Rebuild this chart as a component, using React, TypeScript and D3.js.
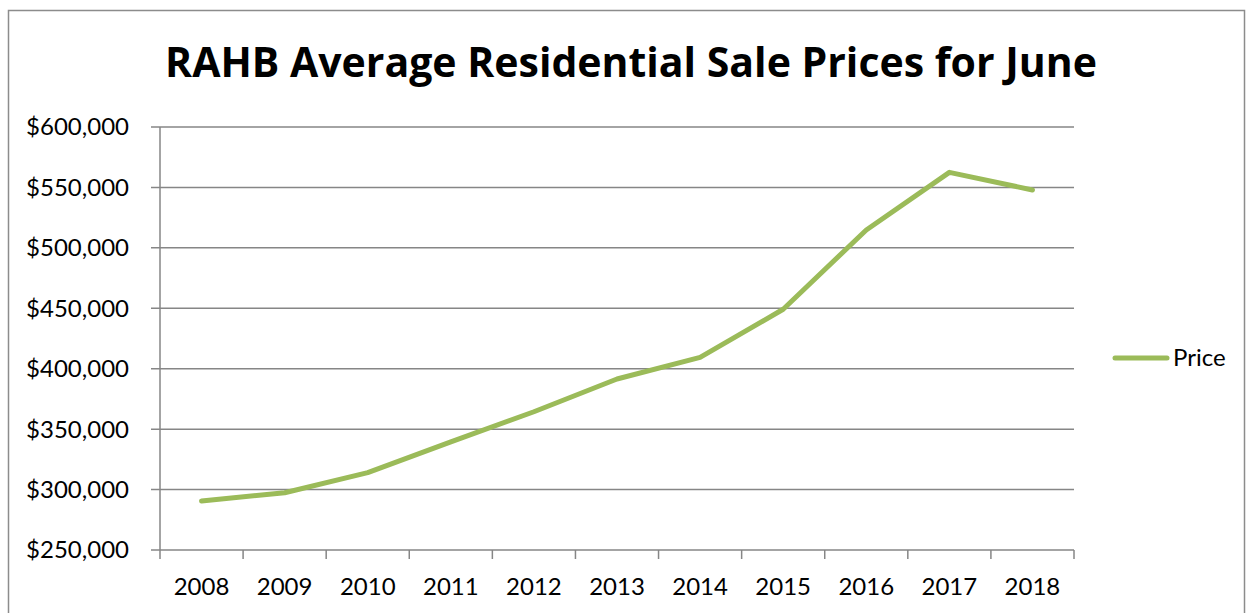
import React from "react";
import * as d3 from "d3";

const years = ["2008", "2009", "2010", "2011", "2012", "2013", "2014", "2015", "2016", "2017", "2018"];
const prices = [290500, 297400, 314000, 339500, 364400, 391500, 409400, 449200, 514800, 562500, 547900];
const yTicks = [250000, 300000, 350000, 400000, 450000, 500000, 550000, 600000];
const seriesName = "Price";
const title = "RAHB Average Residential Sale Prices for June";

const W = 1253;
const H = 613;
const plot = { left: 160, right: 1074, top: 127, bottom: 550 };
const green = "#9BBB59";
const grid = "#868686";
const font = "Lato, 'Open Sans', sans-serif";
const titleFont = "'Open Sans', Lato, sans-serif";

export default function App() {
  const x = d3.scaleBand<string>().domain(years).range([plot.left, plot.right]).padding(0);
  const y = d3.scaleLinear().domain([250000, 600000]).range([plot.bottom, plot.top]);
  const fmt = (v: number) => "$" + d3.format(",")(v);
  const line = d3
    .line<number>()
    .x((_, i) => (x(years[i]) as number) + x.bandwidth() / 2)
    .y((d) => y(d));
  const boundaries = years.map((yr) => x(yr) as number).concat([plot.right]);

  return (
    <svg width={W} height={H} style={{ position: "absolute", left: 0, top: 0 }}>
      <rect x={0} y={0} width={W} height={H} fill="#fff" />
      <rect x={8.5} y={10.5} width={1236} height={H + 20} fill="none" stroke="#8c8c8c" strokeWidth={1.5} />
      <text x={631} y={77} textAnchor="middle" fontFamily={titleFont} fontWeight={700} fontSize={41} fill="#000">
        {title}
      </text>
      {yTicks.map((t) => (
        <g key={t}>
          <line x1={plot.left - 9} x2={plot.right} y1={y(t)} y2={y(t)} stroke={grid} strokeWidth={1.5} />
          <text x={129} y={y(t)} dy="0.35em" textAnchor="end" fontFamily={font} fontSize={24} fill="#000">
            {fmt(t)}
          </text>
        </g>
      ))}
      <line x1={plot.left} x2={plot.left} y1={plot.top} y2={plot.bottom} stroke={grid} strokeWidth={1.5} />
      {boundaries.map((b, i) => (
        <line key={i} x1={b} x2={b} y1={plot.bottom} y2={plot.bottom + 9} stroke={grid} strokeWidth={1.5} />
      ))}
      {years.map((yr) => (
        <text
          key={yr}
          x={(x(yr) as number) + x.bandwidth() / 2}
          y={595}
          textAnchor="middle"
          fontFamily={font}
          fontSize={24}
          fill="#000"
        >
          {yr}
        </text>
      ))}
      <path d={line(prices) || ""} fill="none" stroke={green} strokeWidth={5} strokeLinecap="round" strokeLinejoin="round" />
      <line x1={1115} x2={1167} y1={358} y2={358} stroke={green} strokeWidth={5} strokeLinecap="round" />
      <text x={1173} y={366} fontFamily={font} fontSize={24} fill="#000">
        {seriesName}
      </text>
    </svg>
  );
}
